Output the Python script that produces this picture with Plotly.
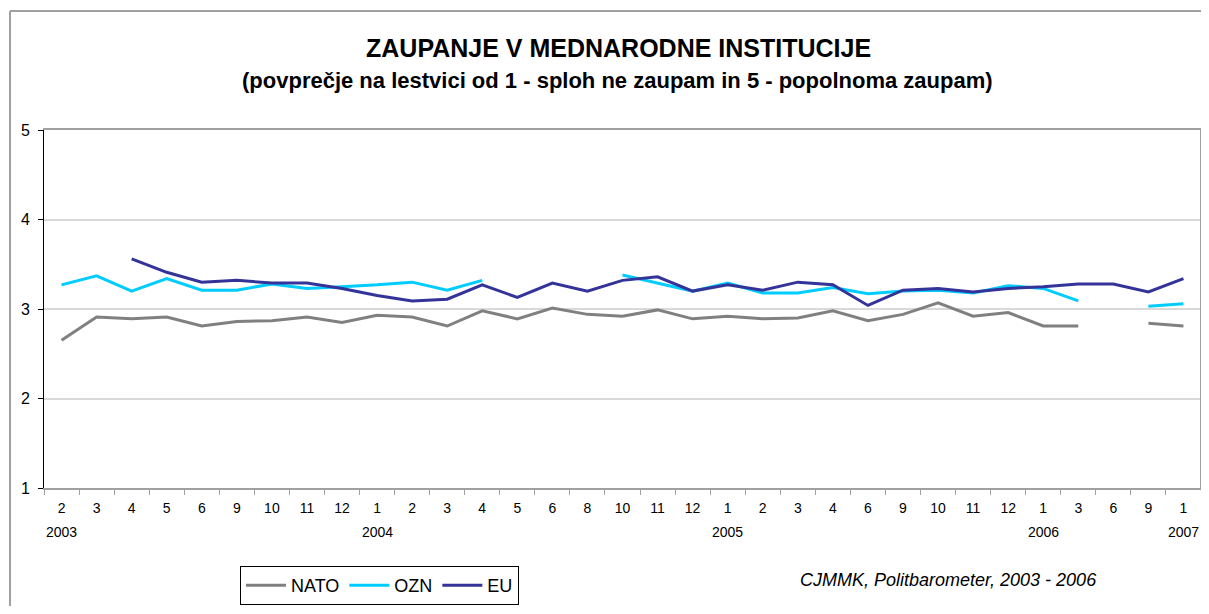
import plotly.graph_objects as go

months = ["2", "3", "4", "5", "6", "9", "10", "11", "12",
          "1", "2", "3", "4", "5", "6", "8", "10", "11", "12",
          "1", "2", "3", "4", "6", "9", "10", "11", "12",
          "1", "3", "6", "9", "1"]
year_pos = [0, 9, 19, 28, 32]
year_labels = ["2003", "2004", "2005", "2006", "2007"]

nato = [2.65, 2.91, 2.89, 2.91, 2.81, 2.86, 2.87, 2.91, 2.85,
        2.93, 2.91, 2.81, 2.98, 2.89, 3.01, 2.94, 2.92, 2.99, 2.89,
        2.92, 2.89, 2.90, 2.98, 2.87, 2.94, 3.07, 2.92, 2.96,
        2.81, 2.81, None, 2.84, 2.81]
ozn = [3.27, 3.37, 3.20, 3.34, 3.21, 3.21, 3.28, 3.23, 3.25,
       3.27, 3.30, 3.21, 3.32, None, None, None, 3.38, 3.29, 3.20,
       3.29, 3.18, 3.18, 3.24, 3.17, 3.20, 3.21, 3.18, 3.26,
       3.23, 3.09, None, 3.03, 3.06]
eu = [None, None, 3.56, 3.41, 3.30, 3.32, 3.29, 3.29, 3.23,
      3.15, 3.09, 3.11, 3.27, 3.13, 3.29, 3.20, 3.32, 3.36, 3.20,
      3.27, 3.21, 3.30, 3.27, 3.04, 3.21, 3.23, 3.19, 3.23,
      3.25, 3.28, 3.28, 3.19, 3.34]

series = [("NATO", nato, "#808080"), ("OZN", ozn, "#00CCFF"), ("EU", eu, "#333399")]

xs = list(range(len(months)))

fig = go.Figure()
for name, vals, col in series:
    fig.add_trace(go.Scatter(x=xs, y=vals, name=name, mode="lines",
                             line=dict(color=col, width=3), connectgaps=False))

FONT = "Liberation Sans, Arial, sans-serif"

# page has an 8px body margin; figure coordinates = page coordinates - 8
W, H = 1193, 598
L, T = 36, 122
PW, PH = W - L, 358
B = H - T - PH


def px(page_x):
    return (page_x - 44) / PW


def py(page_y):
    return (488 - page_y) / PH


annotations = [
    dict(text="<b>ZAUPANJE V MEDNARODNE INSTITUCIJE</b>", xref="paper", yref="paper",
         x=px(618), y=py(48), xanchor="center", yanchor="middle",
         showarrow=False, font=dict(size=25, family=FONT)),
    dict(text="<b>(povprečje na lestvici od 1 - sploh ne zaupam in 5 - popolnoma zaupam)</b>",
         xref="paper", yref="paper", x=px(617), y=py(81), xanchor="center", yanchor="middle",
         showarrow=False, font=dict(size=22, family=FONT)),
    dict(text="<i>CJMMK, Politbarometer, 2003 - 2006</i>", xref="paper", yref="paper",
         x=px(948), y=py(580), xanchor="center", yanchor="middle",
         showarrow=False, font=dict(size=18, family=FONT)),
]
for p, lab in zip(year_pos, year_labels):
    annotations.append(dict(text=lab, xref="x", yref="paper", x=p, y=py(532),
                            xanchor="center", yanchor="middle", showarrow=False,
                            font=dict(size=14, family=FONT)))

fig.update_layout(
    width=W, height=H,
    margin=dict(l=L, r=0, t=T, b=B, pad=0),
    paper_bgcolor="white", plot_bgcolor="white",
    font=dict(family=FONT, size=14, color="black"),
    showlegend=True,
    legend=dict(orientation="h", x=px(240), y=py(605), xanchor="left", yanchor="bottom",
                bordercolor="black", borderwidth=1, font=dict(size=18, family=FONT),
                itemwidth=40, tracegroupgap=0),
    xaxis=dict(range=[-0.5, len(months) - 0.5], tickmode="array", tickvals=xs,
               ticktext=months, ticks="", showgrid=False, zeroline=False,
               showline=True, linecolor="#A0A0A0", linewidth=2, mirror=True,
               tickfont=dict(size=14), ticklabelstandoff=6,
               minor=dict(tick0=-0.5, dtick=1, ticks="outside", ticklen=5,
                          tickcolor="#A0A0A0", showgrid=False)),
    yaxis=dict(range=[1, 5], tickvals=[1, 2, 3, 4, 5], ticks="outside", ticklen=5,
               tickcolor="black", showgrid=True, gridcolor="#D9D9D9", gridwidth=2,
               zeroline=False, showline=True, linecolor="black", linewidth=1,
               tickfont=dict(size=16), ticklabelstandoff=5),
    annotations=annotations,
    shapes=[
        dict(type="line", xref="paper", yref="paper", x0=px(10), x1=px(1215),
             y0=py(11), y1=py(11), line=dict(color="#A0A0A0", width=2), layer="below"),
        dict(type="line", xref="paper", yref="paper", x0=px(10), x1=px(10),
             y0=py(11), y1=py(640), line=dict(color="#A0A0A0", width=2), layer="below"),
        dict(type="line", xref="paper", yref="paper", x0=1, x1=1, y0=0, y1=1,
             line=dict(color="#A0A0A0", width=2)),
    ],
)

fig.write_html("out.html")
